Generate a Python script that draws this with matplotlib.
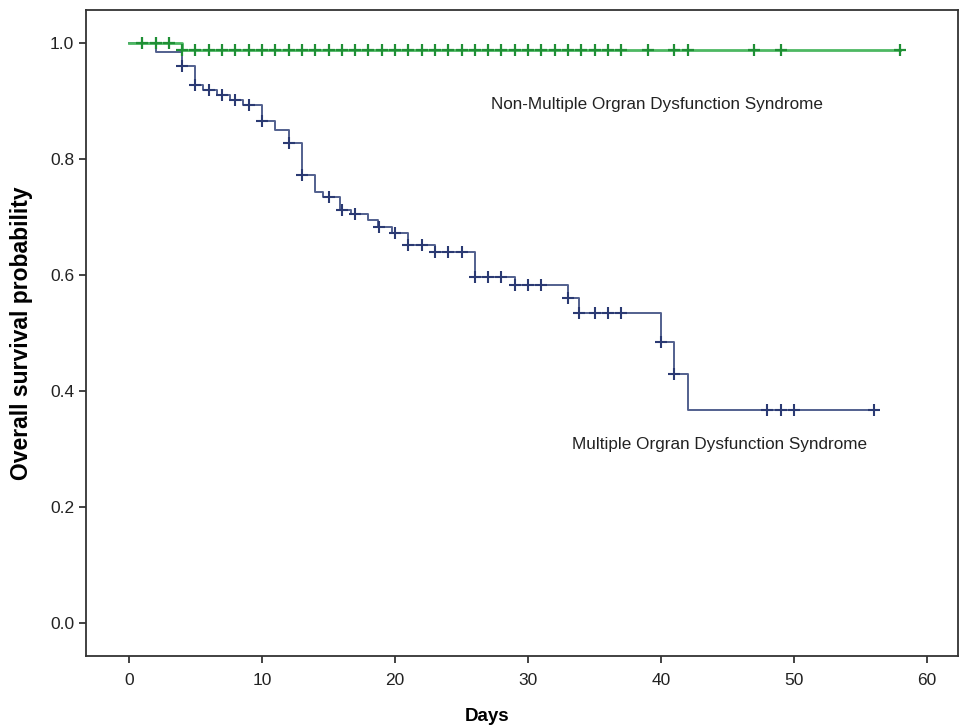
import numpy as np
import matplotlib
matplotlib.use('Agg')
import matplotlib.pyplot as plt

plt.rcParams['font.family'] = ['Liberation Sans', 'DejaVu Sans']

# ---------------------------- data ----------------------------------

# Multiple Organ Dysfunction Syndrome (blue curve)
mods_times = [0, 2, 4, 5, 5.6, 6.6, 7.6, 8.6, 10, 11, 12, 13, 14, 14.6, 15.9,
              16.7, 18, 18.7, 19.8, 21, 23, 26, 29, 33, 33.8, 40, 41, 42]
mods_surv = [1.0, 0.985, 0.960, 0.928, 0.919, 0.910, 0.902, 0.893, 0.866,
             0.850, 0.828, 0.772, 0.744, 0.735, 0.712, 0.706, 0.695, 0.683,
             0.672, 0.652, 0.640, 0.597, 0.583, 0.560, 0.534, 0.485, 0.430,
             0.368]
mods_end = 56
mods_censor = [4, 5, 6, 7, 8, 9, 10, 12, 13, 15, 16, 17, 18.8, 20, 21, 22, 23,
               24, 25, 26, 27, 28, 29, 30, 31, 33, 33.8, 35, 36, 37, 40, 41,
               48, 49, 50, 56]

# Non-Multiple Organ Dysfunction Syndrome (green curve)
non_times = [0, 4]
non_surv = [1.0, 0.988]
non_end = 58
non_censor = list(range(1, 38)) + [39, 41, 42, 47, 49, 58]

x_ticks = [0, 10, 20, 30, 40, 50, 60]
y_ticks = [0.0, 0.2, 0.4, 0.6, 0.8, 1.0]


def step_curve(times, surv, end):
    # survival step function extended to the last follow-up time
    t = np.append(times, end)
    s = np.append(surv, surv[-1])
    return t, s


def surv_at(times, surv, c):
    idx = np.searchsorted(times, c, side='right') - 1
    return np.array(surv)[idx]


# ---------------------------- figure --------------------------------

fig = plt.figure(figsize=(9.6, 7.28), dpi=100)
ax = fig.add_axes([0.0896, 0.099, 0.908, 0.887])

blue_line = '#52608e'
blue_mark = '#2b3a73'
green_line = '#4db862'
green_mark = '#1f8f35'

t, s = step_curve(mods_times, mods_surv, mods_end)
ax.step(t, s, where='post', color=blue_line, lw=1.4, zorder=2)
ax.plot(mods_censor, surv_at(mods_times, mods_surv, mods_censor), ls='none',
        marker='+', ms=9, mew=1.5, color=blue_mark, zorder=3)

t, s = step_curve(non_times, non_surv, non_end)
ax.step(t, s, where='post', color=green_line, lw=2.0, zorder=4)
ax.plot(non_censor, surv_at(non_times, non_surv, non_censor), ls='none',
        marker='+', ms=9, mew=1.6, color=green_mark, zorder=5)

ax.text(27.2, 0.895, 'Non-Multiple Orgran Dysfunction Syndrome',
        fontsize=12.3, color='#222222', va='center', ha='left')
ax.text(33.3, 0.308, 'Multiple Orgran Dysfunction Syndrome',
        fontsize=12.3, color='#222222', va='center', ha='left')

ax.set_xlim(-3.23, 62.3)
ax.set_ylim(-0.057, 1.057)
ax.set_xticks(x_ticks)
ax.set_yticks(y_ticks)
ax.set_yticklabels(['%.1f' % v for v in y_ticks])
ax.tick_params(direction='out', length=5, width=1.2, labelsize=12.5,
               colors='#222222')
ax.tick_params(axis='x', pad=7)
for sp in ax.spines.values():
    sp.set_color('#333333')
    sp.set_linewidth(1.3)

ax.set_xlabel('Days', fontsize=13.5, fontweight='bold')
ax.xaxis.set_label_coords((487 - 86) / 872, -0.08)
ax.set_ylabel('Overall survival probability', fontsize=16.5,
              fontweight='bold', labelpad=12)

fig.savefig('out.png', dpi=100)
